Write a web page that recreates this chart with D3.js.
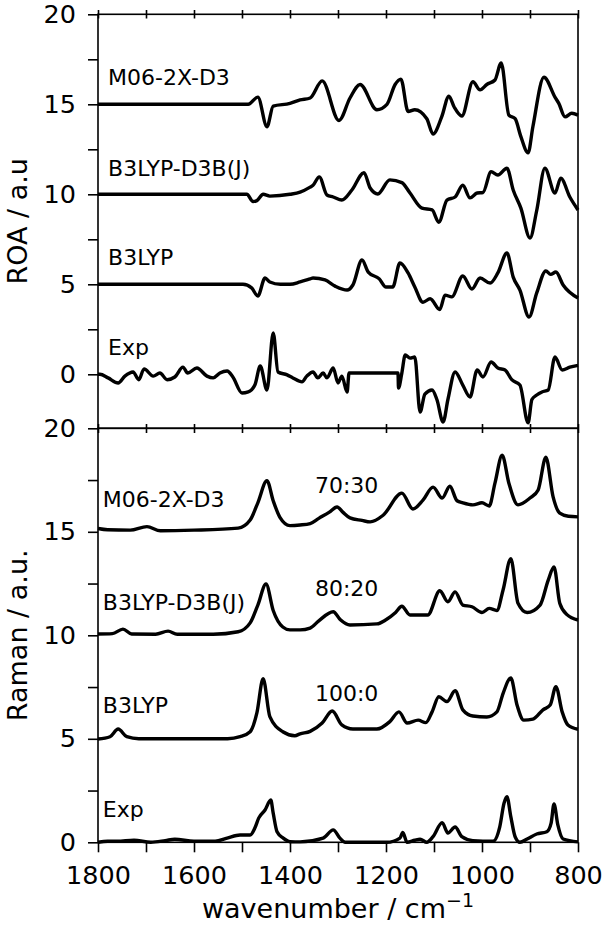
<!DOCTYPE html>
<html>
<head>
<meta charset="utf-8">
<script src="https://cdn.jsdelivr.net/npm/d3@7"></script>
<style>
  body { margin: 0; background: #fff; }
  svg { display: block; font-family: "DejaVu Sans", sans-serif; }
</style>
</head>
<body>
<svg id="chart"></svg>
<script>
const width = 607;
const height = 931;

// ROA spectra (top panel), [wavenumber, value as plotted]
const roaM06 = [[1800,15],[1600,15],[1487,15],[1467,15.4],[1448,13.75],[1435,14.9],[1400,15.05],[1379,15.24],[1358,15.35],[1333,16.3],[1298,14.1],[1275,15.35],[1254,16.1],[1219,14.7],[1198,15.0],[1181,16.1],[1169,16.4],[1154,14.6],[1140,14.7],[1115,14.2],[1102,13.35],[1084,14.3],[1069,15.45],[1058,14.85],[1042,14.35],[1019,16.25],[1004,15.8],[990,16.1],[973,16.35],[960,17.3],[944,14.4],[931,14.2],[919,13.2],[904,12.3],[894,13.75],[871,16.5],[848,15.4],[840,15.05],[827,14.3],[813,14.5],[800,14.4]];
const roaB3D3 = [[1800,10],[1600,10],[1490,10],[1477,9.6],[1469,9.65],[1456,10.0],[1442,9.9],[1400,10.0],[1379,10.12],[1358,10.4],[1352,10.5],[1339,10.97],[1323,9.96],[1310,9.85],[1292,9.68],[1271,10.24],[1246,11.2],[1233,10.35],[1217,10.02],[1192,10.8],[1167,10.65],[1150,10.07],[1125,9.23],[1104,9.13],[1090,8.45],[1073,9.68],[1056,9.85],[1040,10.5],[1025,9.8],[1010,10.07],[998,10.1],[981,11.25],[967,11.07],[948,11.45],[935,10.24],[919,9.23],[900,7.57],[886,9.1],[869,11.45],[848,10.07],[836,10.9],[817,9.85],[800,9.13]];
const roaB3 = [[1800,5],[1600,5],[1498,5],[1480,4.8],[1467,4.35],[1452,5.35],[1442,5.13],[1420,5.0],[1400,5.0],[1379,5.13],[1358,5.3],[1352,5.35],[1327,5.24],[1306,4.9],[1281,4.68],[1269,4.96],[1250,6.35],[1237,5.68],[1214,5.3],[1200,4.85],[1186,4.85],[1171,6.18],[1154,5.63],[1140,4.85],[1123,4.0],[1108,4.2],[1088,3.6],[1077,4.4],[1063,4.3],[1040,5.46],[1021,4.74],[1004,5.35],[983,5.07],[967,5.63],[948,6.74],[935,5.4],[921,4.68],[902,3.18],[886,4.52],[867,5.74],[857,5.55],[846,5.68],[831,4.96],[800,4.24]];
const roaExp = [[1800,0],[1796,0],[1779,-0.2],[1758,-0.48],[1744,-0.1],[1727,0.13],[1715,-0.3],[1704,0.3],[1685,-0.1],[1671,0.07],[1656,-0.3],[1640,-0.15],[1623,0.4],[1613,0.07],[1594,0.35],[1573,-0.1],[1560,-0.2],[1546,0.07],[1531,0.18],[1519,-0.15],[1500,-1.04],[1487,-0.98],[1473,-0.58],[1462,0.46],[1448,-0.87],[1435,2.3],[1425,0.13],[1406,-0.03],[1394,-0.2],[1375,-0.42],[1365,-0.1],[1352,0.13],[1342,-0.2],[1331,0.07],[1323,-0.2],[1310,0.35],[1300,-0.48],[1292,-0.1],[1281,-0.98],[1277,0.07],[1175,0.07],[1174,-0.76],[1167,0.07],[1160,1.07],[1150,0.9],[1140,0.96],[1129,-2.1],[1119,-1.1],[1104,-0.87],[1094,-1.4],[1081,-2.65],[1071,-1.4],[1056,0.13],[1040,-0.6],[1025,-1.26],[1010,0.24],[998,-0.15],[981,0.68],[967,0.35],[952,0.24],[938,-0.3],[921,-0.6],[904,-2.7],[896,-1.4],[886,-1.15],[875,-0.98],[862,-0.87],[848,0.96],[833,0.24],[817,0.4],[800,0.5]];

// Raman spectra (bottom panel)
const ramM06 = [[1800,15.16],[1780,15.1],[1733,15.08],[1698,15.25],[1670,15.05],[1600,15.08],[1508,15.18],[1483,15.57],[1467,16.4],[1448,17.47],[1435,16.5],[1421,15.7],[1400,15.3],[1379,15.33],[1358,15.4],[1340,15.65],[1318,15.95],[1302,16.2],[1290,15.95],[1275,15.67],[1250,15.55],[1233,15.48],[1206,15.8],[1167,16.87],[1144,16.1],[1123,16.53],[1102,17.16],[1083,16.63],[1067,17.2],[1052,16.5],[1040,16.4],[1019,16.3],[1000,16.4],[985,16.25],[973,17.35],[958,18.7],[944,17.35],[925,16.3],[900,16.63],[883,17.02],[867,18.6],[852,16.7],[838,15.9],[820,15.75],[800,15.72]];
const ramB3D3 = [[1800,10.06],[1770,10.08],[1748,10.3],[1730,10.06],[1680,10.05],[1654,10.2],[1635,10.05],[1560,10.05],[1508,10.17],[1483,10.6],[1467,11.46],[1450,12.48],[1435,11.2],[1415,10.4],[1400,10.26],[1379,10.26],[1358,10.35],[1340,10.7],[1310,11.14],[1295,10.75],[1275,10.5],[1219,10.55],[1200,10.75],[1180,11.1],[1167,11.4],[1150,10.98],[1113,10.98],[1088,12.15],[1071,11.62],[1056,12.1],[1040,11.46],[1021,11.38],[1000,11.1],[985,11.3],[969,11.2],[956,12.2],[940,13.7],[925,11.55],[906,11.1],[879,11.46],[862,12.67],[850,13.3],[838,11.55],[823,11.0],[800,10.74]];
const ramB3 = [[1800,4.99],[1775,5.1],[1758,5.47],[1740,5.1],[1715,5.0],[1600,5.0],[1530,5.0],[1504,5.1],[1483,5.34],[1469,6.25],[1456,7.9],[1442,6.07],[1415,5.34],[1390,5.15],[1379,5.24],[1358,5.36],[1333,5.76],[1312,6.34],[1292,5.67],[1269,5.47],[1219,5.47],[1192,5.83],[1173,6.3],[1156,5.76],[1133,5.9],[1117,5.78],[1104,6.3],[1090,7.03],[1073,6.8],[1056,7.32],[1040,6.4],[1019,6.1],[990,6.05],[969,6.3],[956,7.2],[940,7.94],[927,6.63],[913,5.9],[894,5.95],[873,6.4],[858,6.63],[846,7.52],[833,6.3],[821,5.67],[800,5.46]];
const ramExp = [[1800,0],[1780,0.05],[1760,0.05],[1725,0.1],[1690,0.0],[1660,0.08],[1640,0.15],[1600,0.05],[1556,0.05],[1531,0.2],[1504,0.35],[1483,0.35],[1473,0.7],[1465,1.18],[1452,1.56],[1440,2.04],[1435,1.41],[1427,0.51],[1414,0.2],[1400,0.03],[1379,0.02],[1331,0.2],[1310,0.6],[1296,0.2],[1285,0.0],[1198,0.0],[1171,0.2],[1165,0.47],[1156,0.0],[1140,0.1],[1129,0.15],[1115,0.0],[1102,0.27],[1083,0.95],[1071,0.45],[1056,0.74],[1042,0.27],[1019,0.08],[977,0.05],[963,0.75],[954,1.9],[948,2.2],[940,1.24],[931,0.27],[921,0.0],[906,0.16],[886,0.4],[865,0.51],[856,0.93],[850,1.85],[842,0.84],[831,0.16],[800,0.02]];

// curve names, where their labels sit (wavenumber, value)
const methods = ["M06-2X-D3", "B3LYP-D3B(J)", "B3LYP", "Exp"];
const roaLabelY = [16.06, 11.0, 6.1, 1.06];
const ramLabelY = [16.2, 11.2, 6.25, 1.22];
const ratios = ["70:30", "80:20", "100:0"];
const ratioY = [16.87, 11.9, 6.84];

const xTicks = d3.range(1800, 799, -100);
const yTicks = d3.range(0, 20.1, 2.5);

const svg = d3.select("#chart").attr("width", width).attr("height", height);

const x = d3.scaleLinear().domain([1800, 800]).range([98, 578]);
const yTop = d3.scaleLinear().domain([-3, 20]).range([428.3, 14.3]);
const yBot = d3.scaleLinear().domain([0, 20]).range([842.3, 428.3]);

function drawPanel(y, series, labelY, labelX) {
  const line = d3.line()
    .x(d => x(d[0]))
    .y(d => y(d[1]))
    .curve(d3.curveMonotoneX);

  svg.append("g")
    .selectAll("path")
    .data(series)
    .join("path")
    .attr("d", line)
    .attr("fill", "none")
    .attr("stroke", "#000")
    .attr("stroke-width", 3.4)
    .attr("stroke-linejoin", "round");

  svg.append("g")
    .selectAll("text")
    .data(methods)
    .join("text")
    .attr("x", x(labelX))
    .attr("y", (d, i) => y(labelY[i]))
    .attr("font-size", 22)
    .text(d => d);

  // y axis
  const ax = svg.append("g")
    .attr("transform", "translate(98,0)")
    .call(d3.axisLeft(y)
      .tickValues(yTicks)
      .tickSize(10)
      .tickPadding(12)
      .tickFormat(d => d % 5 === 0 ? d : ""));
  ax.select(".domain").remove();
  ax.selectAll("line").attr("stroke-width", 1.6);
  ax.selectAll("text")
    .attr("font-size", 25.5)
    .attr("font-family", "DejaVu Sans")
    .attr("fill", "#000");
}

drawPanel(yTop, [roaM06, roaB3D3, roaB3, roaExp], roaLabelY, 1779);
drawPanel(yBot, [ramM06, ramB3D3, ramB3, ramExp], ramLabelY, 1790);

// ratio labels
svg.append("g")
  .selectAll("text")
  .data(ratios)
  .join("text")
  .attr("x", x(1348))
  .attr("y", (d, i) => yBot(ratioY[i]))
  .attr("font-size", 22)
  .text(d => d);

// x ticks: top spine, shared middle, bottom
function xTickRow(yPos, size) {
  const g = svg.append("g")
    .attr("transform", `translate(0,${yPos})`)
    .call(d3.axisBottom(x).tickValues(xTicks).tickSize(size).tickFormat(""));
  g.select(".domain").remove();
  g.selectAll("line").attr("stroke-width", 1.6);
  return g;
}
xTickRow(10, 8.5);
xTickRow(424, 9);
const bottomAxis = svg.append("g")
  .attr("transform", "translate(0,842.3)")
  .call(d3.axisBottom(x)
    .tickValues(xTicks)
    .tickSize(10)
    .tickFormat(d => d % 200 === 0 ? d : ""));
bottomAxis.select(".domain").remove();
bottomAxis.selectAll("line").attr("stroke-width", 1.6);
bottomAxis.selectAll("text")
  .attr("dy", null)
  .attr("y", 42)
  .attr("font-size", 25.5)
  .attr("font-family", "DejaVu Sans")
  .attr("fill", "#000");

// frames
[[yTop, -3, 20], [yBot, 0, 20]].forEach(([y, lo, hi]) => {
  svg.append("rect")
    .attr("x", x(1800))
    .attr("y", y(hi))
    .attr("width", x(800) - x(1800))
    .attr("height", y(lo) - y(hi))
    .attr("fill", "none")
    .attr("stroke", "#000")
    .attr("stroke-width", 1.6);
});

// axis titles
svg.append("text")
  .attr("transform", `translate(27,${(yTop(20) + yTop(-3)) / 2}) rotate(-90)`)
  .attr("text-anchor", "middle")
  .attr("font-size", 27)
  .text("ROA / a.u");

svg.append("text")
  .attr("transform", `translate(27,${(yBot(20) + yBot(0)) / 2}) rotate(-90)`)
  .attr("text-anchor", "middle")
  .attr("font-size", 27)
  .text("Raman / a.u.");

const xl = svg.append("text")
  .attr("x", (x(1800) + x(800)) / 2)
  .attr("y", 918)
  .attr("text-anchor", "middle")
  .attr("font-size", 27);
xl.append("tspan").text("wavenumber / cm");
xl.append("tspan").attr("font-size", 19).attr("dy", -11).text("\u22121");
</script>
</body>
</html>
